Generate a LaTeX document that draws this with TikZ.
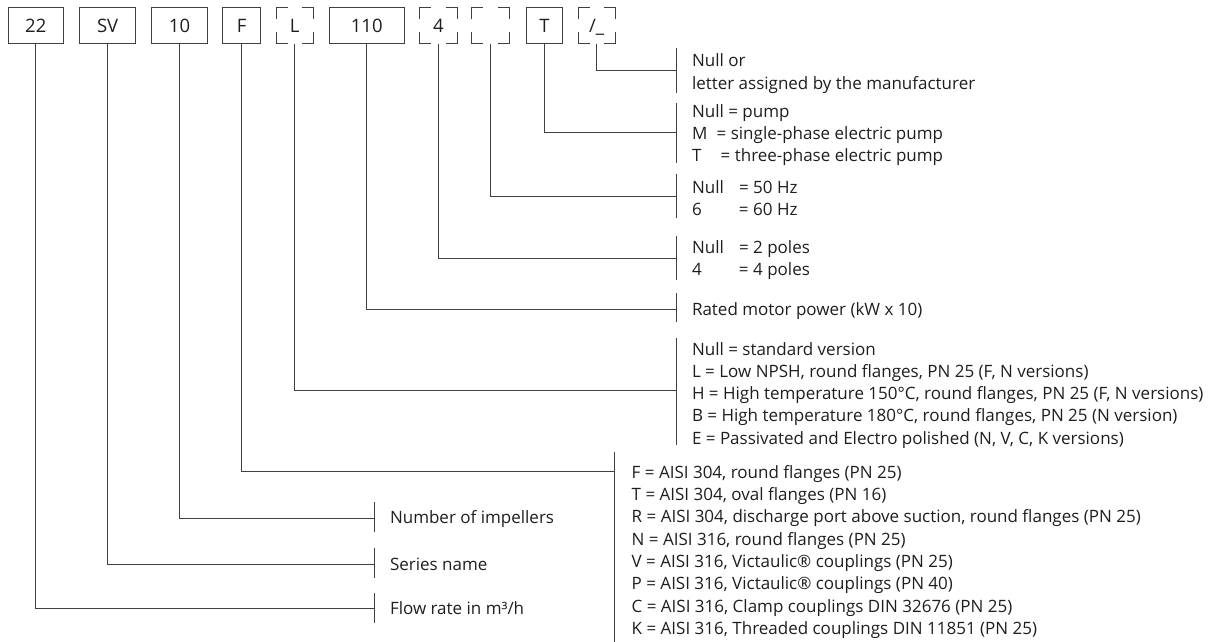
\documentclass[tikz,border=0pt]{standalone}
\usepackage{fontspec}
\setmainfont{Open Sans}
\usetikzlibrary{calc}
\definecolor{linecol}{HTML}{404040}
\definecolor{txtcol}{HTML}{1E1E1E}
\newcommand{\lblfont}{\fontsize{17}{22.3}\selectfont}
\newcommand{\boxfont}{\fontsize{18.5}{22}\selectfont}
\begin{document}
\begin{tikzpicture}[x=1pt,y=-1pt,
  conn/.style={draw=linecol, line width=1pt},
  codebox/.style={draw=linecol, line width=1pt, minimum height=36pt, inner sep=0pt, outer sep=0pt,
    text height=13.5pt, text depth=0pt, font=\boxfont, text=txtcol},
  dashbox/.style={codebox, draw=none},
  lbl/.style={anchor=north west, inner sep=0pt, outer sep=0pt, align=left, font=\lblfont, text=txtcol},
]
\useasboundingbox (0,0) rectangle (1228,642);

% code boxes
\node[codebox, minimum width=55pt]   (b22)  at (35.8,26)  {22};
\node[codebox, minimum width=56.7pt] (bSV)  at (107.6,26) {SV};
\node[codebox, minimum width=55.6pt] (b10)  at (179.5,26) {10};
\node[codebox, minimum width=38pt]   (bF)   at (241.7,26) {F};
\node[dashbox, minimum width=37.3pt] (bL)   at (294.7,26) {L};
\node[codebox, minimum width=74.7pt] (b110) at (366.7,26) {110};
\node[dashbox, minimum width=37.4pt] (b4)   at (438.5,26) {4};
\node[dashbox, minimum width=37.6pt] (bN)   at (490.5,26) {};
\node[codebox, minimum width=36.7pt] (bT)   at (544.4,26) {T};
\node[dashbox, minimum width=36.7pt] (bS)   at (596.7,26) {/\_};

% dashed (corner-only) boxes
\foreach \n in {bL,b4,bN,bS}{
  \draw[conn] ($(\n.north west)+(0,11.5)$) -- (\n.north west) -- ($(\n.north west)+(11.5,0)$);
  \draw[conn] ($(\n.north east)+(-11.5,0)$) -- (\n.north east) -- ($(\n.north east)+(0,11.5)$);
  \draw[conn] ($(\n.south east)+(0,-11.5)$) -- (\n.south east) -- ($(\n.south east)+(-11.5,0)$);
  \draw[conn] ($(\n.south west)+(11.5,0)$) -- (\n.south west) -- ($(\n.south west)+(0,-11.5)$);
}

% connector end points on the brackets
\coordinate (cS)   at (676.7,70);
\coordinate (cT)   at (676.7,132.7);
\coordinate (cN)   at (676.7,196);
\coordinate (c4)   at (676.7,258.3);
\coordinate (c110) at (676.7,309);
\coordinate (cL)   at (676.7,390);
\coordinate (cF)   at (614.3,471.5);
\coordinate (c10)  at (374.3,518.3);
\coordinate (cSV)  at (374.3,564);
\coordinate (c22)  at (374.3,608.3);

% connectors
\draw[conn] (bS.south)   |- (cS);
\draw[conn] (bT.south)   |- (cT);
\draw[conn] (bN.south)   |- (cN);
\draw[conn] (b4.south)   |- (c4);
\draw[conn] (b110.south) |- (c110);
\draw[conn] (bL.south)   |- (cL);
\draw[conn] (bF.south)   |- (cF);
\draw[conn] (b10.south)  |- (c10);
\draw[conn] (bSV.south)  |- (cSV);
\draw[conn] (b22.south)  |- (c22);

% brackets
\draw[conn] (676.7,48) -- (676.7,93);
\draw[conn] (676.7,103) -- (676.7,163);
\draw[conn] (676.7,174) -- (676.7,218);
\draw[conn] (676.7,236) -- (676.7,280);
\draw[conn] (676.7,293.3) -- (676.7,322.3);
\draw[conn] (676.7,338.3) -- (676.7,445);
\draw[conn] (614.3,451.7) -- (614.3,642);
\draw[conn] (374.3,502.3) -- (374.3,532.3);
\draw[conn] (374.3,548.3) -- (374.3,577.7);
\draw[conn] (374.3,593.3) -- (374.3,623.3);

% labels
\node[lbl] (tS) at (692,51.1) {\strut Null or\\letter assigned by the manufacturer};
\node[lbl] (tT) at (692,101.7) {\strut\makebox[36.3pt][l]{Null}= pump\\\makebox[24.7pt][l]{M}= single-phase electric pump\\\makebox[28.7pt][l]{T}= three-phase electric pump};
\node[lbl] (tN) at (692,177.7) {\strut\makebox[47pt][l]{Null}= 50 Hz\\\makebox[47pt][l]{6}= 60 Hz};
\node[lbl] (t4) at (692,237.7) {\strut\makebox[47pt][l]{Null}= 2 poles\\\makebox[47pt][l]{4}= 4 poles};
\node[lbl] (t110) at (692,299.4) {\strut Rated motor power (kW x 10)};
\node[lbl] (tL) at (692,339.4) {\strut Null = standard version\\
L = Low NPSH, round flanges, PN 25 (F, N versions)\\
H = High temperature 150°C, round flanges, PN 25 (F, N versions)\\
B = High temperature 180°C, round flanges, PN 25 (N version)\\
E = Passivated and Electro polished (N, V, C, K versions)};
\node[lbl] (tF) at (631.7,462.7) {\strut F = AISI 304, round flanges (PN 25)\\
T = AISI 304, oval flanges (PN 16)\\
R = AISI 304, discharge port above suction, round flanges (PN 25)\\
N = AISI 316, round flanges (PN 25)\\
V = AISI 316, Victaulic® couplings (PN 25)\\
P = AISI 316, Victaulic® couplings (PN 40)\\
C = AISI 316, Clamp couplings DIN 32676 (PN 25)\\
K = AISI 316, Threaded couplings DIN 11851 (PN 25)};
\node[lbl] (t10) at (390,507.7) {\strut Number of impellers};
\node[lbl] (tSV) at (390,554.4) {\strut Series name};
\node[lbl] (t22) at (390,598.7) {\strut Flow rate in m³/h};
\end{tikzpicture}
\end{document}
